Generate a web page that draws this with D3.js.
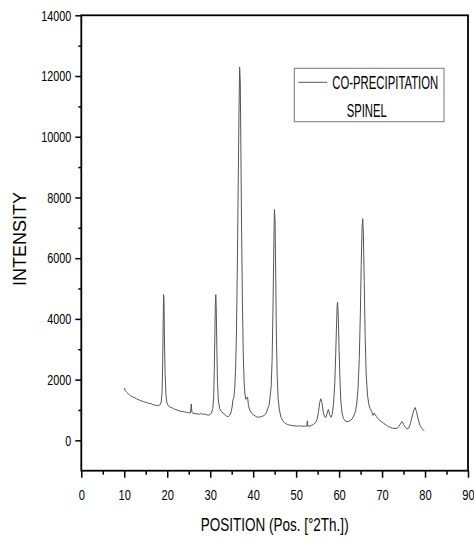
<!DOCTYPE html>
<html lang="en">
<head>
    <meta charset="UTF-8">
    <title>XRD pattern - co-precipitation spinel</title>
    <style>
        body { margin: 0; background: #fff; }
        .tick text { font-family: "Liberation Sans", Arial, sans-serif; font-size: 15px; fill: #000; }
        .tick line { stroke: #000; stroke-width: 1.5px; }
        .title { font-family: "Liberation Sans", Arial, sans-serif; fill: #000; }
        .pattern { fill: none; stroke: #555; stroke-width: 1px; }
    </style>
    <script src="https://d3js.org/d3.v7.min.js"></script>
</head>
<body>
<div id="chart"></div>
<script>
    // diffraction angle (deg 2theta) and counts
    const twoTheta = [
        10.0, 10.2, 10.4, 10.6, 10.9, 11.2, 11.5, 11.8, 12.1, 12.5, 12.8, 13.2, 13.6, 14.0, 14.4, 14.8,
        15.2, 15.6, 16.0, 16.4, 16.8, 17.2, 17.6, 18.0, 18.3, 18.6, 18.8, 18.95, 19.05, 19.15, 19.25, 19.35,
        19.5, 19.7, 19.9, 20.2, 20.6, 21.0, 21.5, 22.0, 22.5, 23.0, 23.5, 24.0, 24.5, 25.0, 25.4, 25.6,
        25.75, 26.0, 26.5, 27.0, 27.5, 28.0, 28.3, 28.7, 29.2, 29.6, 30.0, 30.3, 30.6, 30.8, 30.95, 31.1,
        31.2, 31.3, 31.4, 31.55, 31.7, 31.9, 32.2, 32.6, 33.0, 33.4, 33.8, 34.2, 34.5, 34.8, 35.1, 35.3,
        35.5, 35.7, 35.9, 36.1, 36.3, 36.5, 36.7, 36.85, 37.0, 37.15, 37.3, 37.5, 37.7, 37.9, 38.1, 38.3,
        38.5, 38.7, 38.9, 39.2, 39.6, 40.0, 40.5, 41.0, 41.5, 42.0, 42.5, 43.0, 43.4, 43.7, 44.0, 44.2,
        44.4, 44.6, 44.8, 44.95, 45.1, 45.25, 45.4, 45.6, 45.8, 46.1, 46.5, 47.0, 47.5, 48.0, 48.5, 49.0,
        49.5, 50.0, 50.5, 51.0, 51.5, 52.0, 52.5, 52.6, 52.7, 53.0, 53.5, 54.0, 54.5, 54.9, 55.2, 55.5,
        55.75, 56.0, 56.3, 56.6, 56.9, 57.2, 57.5, 57.8, 58.1, 58.4, 58.7, 59.0, 59.2, 59.4, 59.55, 59.65,
        59.8, 60.0, 60.2, 60.4, 60.7, 61.0, 61.4, 61.8, 62.2, 62.6, 63.0, 63.4, 63.8, 64.1, 64.4, 64.7,
        64.95, 65.15, 65.35, 65.5, 65.65, 65.85, 66.05, 66.3, 66.6, 66.9, 67.2, 67.6, 67.9, 68.2, 68.4, 68.7,
        69.0, 69.5, 70.0, 70.5, 71.0, 71.5, 72.0, 72.5, 73.0, 73.5, 74.0, 74.4, 74.7, 75.0, 75.4, 75.8,
        76.2, 76.6, 77.0, 77.4, 77.7, 78.0, 78.4, 78.8, 79.2, 79.5, 79.8
    ];
    const intensity = [
        1720, 1650, 1610, 1580, 1540, 1500, 1470, 1440, 1420, 1400, 1370, 1350, 1320, 1300, 1280, 1260,
        1250, 1220, 1210, 1200, 1170, 1160, 1140, 1150, 1170, 1260, 1600, 2600, 3800, 4800, 4600, 3400,
        2200, 1500, 1250, 1150, 1100, 1080, 1040, 1010, 990, 960, 950, 940, 920, 910, 900, 1200,
        920, 890, 880, 870, 860, 890, 850, 870, 840, 830, 850, 900, 1050, 1400, 2300, 3600,
        4500, 4800, 4400, 3000, 1900, 1300, 1050, 950, 900, 850, 800, 780, 820, 900, 1100, 1350,
        1400, 1700, 2300, 3500, 5500, 8200, 10800, 12300, 11800, 9500, 7000, 4500, 2800, 1900, 1500, 1350,
        1400, 1420, 1150, 1000, 900, 850, 800, 760, 770, 780, 820, 880, 1050, 1150, 1500, 1800,
        2600, 4200, 6300, 7600, 7200, 5400, 3500, 2100, 1400, 1000, 750, 620, 560, 520, 500, 490,
        480, 470, 470, 480, 460, 470, 470, 640, 470, 460, 490, 520, 580, 700, 950, 1250,
        1370, 1250, 950, 780, 750, 880, 1020, 850, 760, 850, 1200, 1900, 2800, 3800, 4450, 4550,
        4100, 3000, 2000, 1300, 900, 720, 640, 620, 620, 650, 700, 800, 950, 1200, 1700, 2700,
        4200, 5800, 7000, 7300, 6800, 5200, 3500, 2200, 1500, 1200, 1050, 950, 820, 900, 850, 780,
        720, 650, 600, 550, 500, 450, 420, 400, 390, 400, 470, 580, 620, 520, 430, 380,
        400, 550, 800, 1000, 1080, 950, 700, 500, 400, 360, 310
    ];

    const xMajor = [0, 10, 20, 30, 40, 50, 60, 70, 80, 90];
    const xMinor = [5, 15, 25, 35, 45, 55, 65, 75, 85];
    const yMajor = [0, 2000, 4000, 6000, 8000, 10000, 12000, 14000];
    const yMinor = [1000, 3000, 5000, 7000, 9000, 11000, 13000];

    const seriesName = "CO-PRECIPITATION";
    const seriesSub = "SPINEL";

    const width = 474, height = 542;
    const mLeft = 81.3, mRight = 468, mTop = 15.3, mBottom = 470.7;

    const svg = d3.select("#chart").append("svg")
        .attr("width", width)
        .attr("height", height);

    const x = d3.scaleLinear().domain([0, 90]).range([mLeft, mRight]);
    const y = d3.scaleLinear().domain([-1000, 14000]).range([mBottom, mTop]);

    // the original uses a narrow face: squeeze glyphs horizontally around their anchor
    function squeeze(sel, ratio) {
        sel.each(function () {
            const t = d3.select(this);
            const tx = +t.attr("x") || 0, ty = +t.attr("y") || 0;
            t.attr("x", 0).attr("y", 0)
             .attr("transform", `translate(${tx},${ty}) scale(${ratio},1)`);
        });
    }
    function fitWidth(sel, target) {
        sel.each(function () {
            squeeze(d3.select(this), target / this.getComputedTextLength());
        });
    }

    const points = twoTheta.map((t, i) => [t, intensity[i]]);

    const line = d3.line()
        .x(d => x(d[0]))
        .y(d => y(d[1]));

    svg.append("path")
        .datum(points)
        .attr("class", "pattern")
        .attr("d", line);

    // axes
    const gx = svg.append("g").attr("transform", `translate(0,${mBottom})`)
        .call(d3.axisBottom(x).tickValues(xMajor).tickSize(7).tickPadding(12));
    svg.append("g").attr("transform", `translate(0,${mBottom})`)
        .call(d3.axisBottom(x).tickValues(xMinor).tickSize(4).tickFormat(""));

    const gy = svg.append("g").attr("transform", `translate(${mLeft},0)`)
        .call(d3.axisLeft(y).tickValues(yMajor).tickSize(6).tickPadding(4).tickFormat(d3.format("d")));
    svg.append("g").attr("transform", `translate(${mLeft},0)`)
        .call(d3.axisLeft(y).tickValues(yMinor).tickSize(3).tickFormat(""));

    svg.selectAll(".domain").remove();
    squeeze(gx.selectAll("text"), 0.74);
    squeeze(gy.selectAll("text"), 0.72);

    // frame
    svg.append("rect")
        .attr("x", mLeft).attr("y", mTop)
        .attr("width", mRight - mLeft).attr("height", mBottom - mTop)
        .attr("fill", "none")
        .attr("stroke", "#000")
        .attr("stroke-width", 1.8);

    // axis titles
    svg.append("text")
        .attr("class", "title")
        .attr("x", (mLeft + mRight) / 2)
        .attr("y", 531)
        .attr("text-anchor", "middle")
        .style("font-size", "18px")
        .text("POSITION (Pos. [°2Th.])")
        .call(fitWidth, 148);

    svg.append("text")
        .attr("class", "title")
        .attr("transform", "translate(26,239) rotate(-90)")
        .attr("text-anchor", "middle")
        .style("font-size", "18px")
        .text("INTENSITY");

    // legend
    const lg = svg.append("g");
    lg.append("rect")
        .attr("x", 294.3).attr("y", 68.3)
        .attr("width", 149.7).attr("height", 53.4)
        .attr("fill", "none")
        .attr("stroke", "#777")
        .attr("stroke-width", 1);
    lg.append("line")
        .attr("x1", 298.3).attr("x2", 327.3)
        .attr("y1", 82.3).attr("y2", 82.3)
        .attr("stroke", "#555");
    lg.append("text")
        .attr("class", "title")
        .attr("x", 332.3).attr("y", 89.3)
        .style("font-size", "18px")
        .text(seriesName)
        .call(fitWidth, 106);
    lg.append("text")
        .attr("class", "title")
        .attr("x", 346.7).attr("y", 116.7)
        .style("font-size", "18px")
        .text(seriesSub)
        .call(fitWidth, 40);
</script>
</body>
</html>
